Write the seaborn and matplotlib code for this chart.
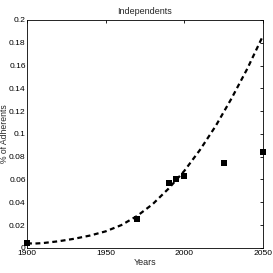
import matplotlib
matplotlib.use("Agg")
import matplotlib.pyplot as plt
import seaborn as sns
import pandas as pd

# Observed data (squares)
obs_years = [1900, 1970, 1990, 1995, 2000, 2025, 2050]
obs_values = [0.0045, 0.025, 0.057, 0.0605, 0.0635, 0.0743, 0.0842]

# Fitted trend (dashed)
fit_years = [1900, 1905, 1910, 1920, 1930, 1940, 1950, 1960, 1970, 1980, 1990,
             2000, 2010, 2020, 2030, 2040, 2050]
fit_values = [0.0040, 0.0038, 0.0042, 0.0058, 0.0080, 0.0108, 0.0145, 0.0200,
              0.0280, 0.0385, 0.0520, 0.0675, 0.0860, 0.1070, 0.1310, 0.1570, 0.1860]

x_ticks = [1900, 1950, 2000, 2050]
y_ticks = [0, 0.02, 0.04, 0.06, 0.08, 0.1, 0.12, 0.14, 0.16, 0.18, 0.2]
y_tick_labels = ["0", "0.02", "0.04", "0.06", "0.08", "0.1", "0.12", "0.14", "0.16", "0.18", "0.2"]

sns.set_style("white")
plt.rcParams['font.family'] = ['Liberation Sans', 'DejaVu Sans']

fig = plt.figure(figsize=(2.73, 2.73), dpi=100)
ax = fig.add_axes([0.099, 0.092, 0.864, 0.835])

fit_df = pd.DataFrame({"year": fit_years, "value": fit_values})
obs_df = pd.DataFrame({"year": obs_years, "value": obs_values})

sns.lineplot(data=fit_df, x="year", y="value", ax=ax, color="black",
             linewidth=1.6, linestyle=(0, (2.2, 1.6)), clip_on=False)
sns.scatterplot(data=obs_df, x="year", y="value", ax=ax, color="black",
                marker="s", s=22, edgecolor="black", linewidth=0, zorder=3, clip_on=False)

ax.set_xlim(1900, 2050)
ax.set_ylim(0, 0.2)
ax.set_xticks(x_ticks)
ax.set_xticklabels([str(t) for t in x_ticks])
ax.set_yticks(y_ticks)
ax.set_yticklabels(y_tick_labels)
ax.tick_params(direction="in", length=2.5, width=0.6, labelsize=6.1, pad=1.5,
               top=True, right=True, colors="black")
ax.tick_params(axis="y", pad=1.0)
for s in ax.spines.values():
    s.set_visible(True)
    s.set_color("black")
    s.set_linewidth(0.6)

ax.set_title("Independents", fontsize=6.5, pad=4)
ax.set_xlabel("Years", fontsize=6.5, labelpad=1)
ax.set_ylabel("% of Adherents", fontsize=6.2)
ax.yaxis.set_label_coords(-0.077, 0.5)

fig.savefig("out.png", dpi=100, facecolor="white")
